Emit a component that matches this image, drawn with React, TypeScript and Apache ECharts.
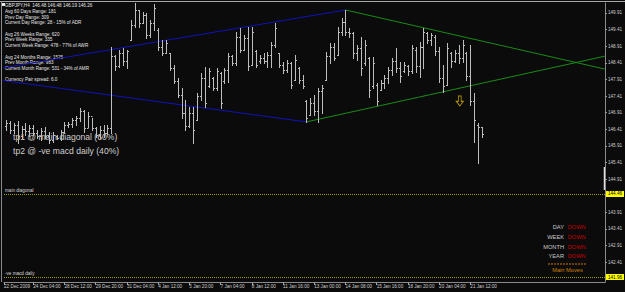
import React, { useEffect, useRef } from "react";
import * as echarts from "echarts";

// ---- data (GBPJPY, H4) ----
const opens = [
  146.50, 146.60, 146.40, 146.55, 146.20, 146.42, 146.35, 146.45, 146.30, 146.22,
  146.35, 146.20, 146.10, 146.20, 146.15, 146.33, 146.55, 146.58, 146.70, 146.76,
  146.95, 146.45, 146.80, 146.45, 146.25, 146.40, 146.30, 146.45, 148.60, 148.30,
  148.70, 148.45, 149.10, 149.55, 150.00, 149.60, 149.85, 149.25, 149.60, 149.40,
  148.90, 148.70, 148.70, 148.25, 147.85, 147.45, 146.90, 146.50, 146.90, 146.70,
  147.40, 147.95, 147.70, 147.95, 147.65, 148.10, 147.85, 148.20, 148.60, 148.40,
  149.20, 148.80, 149.15, 148.35, 148.75, 148.45, 148.55, 148.45, 148.65, 148.95,
  148.70, 148.35, 148.20, 148.40, 147.90, 148.25, 147.90, 147.25, 146.85, 147.20,
  146.95, 147.55, 147.90, 148.60, 148.90, 148.65, 149.35, 149.65, 149.35, 149.30,
  148.70, 148.85, 148.40, 148.55, 147.70, 147.75, 147.60, 147.80, 147.95, 148.20,
  148.45, 148.25, 148.15, 148.30, 148.15, 148.80, 148.30, 148.90, 149.30, 149.10,
  149.20, 148.75, 147.95, 147.75, 148.70, 148.45, 148.70, 148.55, 148.70, 148.00,
  147.25, 146.55, 146.48,
];
const highs = [
  146.69, 146.66, 146.60, 146.66, 146.50, 146.60, 146.54, 146.54, 146.38, 146.44,
  146.47, 146.32, 146.32, 146.23, 146.38, 146.63, 146.63, 146.75, 146.81, 147.05,
  146.99, 146.93, 146.75, 146.47, 146.50, 146.54, 146.54, 148.88, 148.64, 148.79,
  148.85, 148.79, 149.70, 150.21, 150.00, 149.94, 149.91, 149.70, 150.18, 149.46,
  149.10, 149.10, 148.70, 148.34, 147.95, 147.65, 147.29, 147.08, 147.08, 147.50,
  148.10, 148.28, 148.25, 147.98, 148.25, 148.13, 148.25, 148.70, 148.64, 149.34,
  149.46, 149.25, 149.49, 149.49, 148.79, 148.64, 148.70, 148.73, 149.03, 149.61,
  148.70, 148.43, 148.49, 148.43, 148.64, 148.28, 148.04, 147.29, 147.35, 147.44,
  147.65, 147.74, 148.73, 149.00, 149.00, 149.49, 149.76, 150.00, 149.46, 149.34,
  148.94, 149.19, 149.10, 148.58, 148.58, 147.80, 147.89, 148.04, 148.28, 148.55,
  148.85, 148.43, 148.43, 148.34, 148.94, 148.88, 149.03, 149.46, 149.34, 149.31,
  149.25, 148.88, 148.34, 149.00, 148.73, 148.79, 148.94, 149.10, 148.73, 148.94,
  147.50, 146.60, 146.48,
];
const lows = [
  146.38, 146.29, 146.29, 145.99, 146.11, 146.23, 146.20, 146.23, 146.14, 146.08,
  146.14, 145.99, 146.02, 146.11, 146.08, 146.29, 146.47, 146.47, 146.54, 146.66,
  146.32, 146.47, 146.38, 146.17, 146.14, 146.17, 146.26, 146.29, 148.19, 148.28,
  148.34, 148.25, 149.10, 149.49, 149.49, 149.61, 149.16, 149.19, 149.40, 148.79,
  148.64, 148.70, 148.19, 147.80, 147.38, 146.75, 146.38, 146.47, 145.99, 146.69,
  147.29, 147.08, 147.68, 147.59, 147.59, 147.05, 147.80, 147.83, 148.34, 148.34,
  148.73, 148.79, 148.19, 148.34, 148.28, 148.40, 148.40, 148.28, 148.28, 148.88,
  148.28, 148.10, 148.13, 147.65, 147.89, 147.80, 147.65, 146.63, 146.84, 146.84,
  146.63, 146.90, 147.89, 148.40, 148.49, 148.64, 149.25, 149.25, 149.19, 148.55,
  148.49, 148.04, 148.34, 147.38, 147.65, 147.14, 147.59, 147.65, 147.80, 148.04,
  148.13, 147.83, 148.13, 148.04, 148.10, 148.13, 147.98, 148.25, 149.00, 148.94,
  148.64, 147.83, 147.53, 147.74, 148.28, 148.43, 148.40, 148.43, 147.89, 147.14,
  146.02, 145.39, 146.19,
];
const closes = [
  146.60, 146.40, 146.55, 146.20, 146.42, 146.35, 146.45, 146.30, 146.22, 146.35,
  146.20, 146.10, 146.25, 146.15, 146.33, 146.55, 146.58, 146.70, 146.76, 146.95,
  146.45, 146.80, 146.45, 146.25, 146.40, 146.30, 146.45, 148.60, 148.30, 148.70,
  148.45, 148.75, 149.55, 150.00, 149.60, 149.85, 149.25, 149.60, 150.05, 148.90,
  148.70, 149.00, 148.25, 147.85, 147.45, 146.90, 146.50, 146.90, 146.40, 147.40,
  147.95, 147.20, 148.15, 147.65, 148.15, 147.20, 148.20, 148.60, 148.40, 149.20,
  148.80, 149.15, 148.30, 149.35, 148.35, 148.55, 148.45, 148.65, 148.95, 149.45,
  148.35, 148.20, 148.40, 147.75, 148.50, 147.90, 147.70, 146.75, 147.20, 146.95,
  147.55, 147.65, 148.60, 148.90, 148.55, 149.35, 149.65, 149.35, 149.30, 148.70,
  148.85, 148.25, 148.95, 147.60, 148.40, 147.25, 147.80, 147.95, 148.20, 148.45,
  148.25, 148.00, 148.35, 148.15, 148.85, 148.30, 148.90, 149.35, 149.10, 149.25,
  148.75, 147.95, 147.70, 148.85, 148.45, 148.70, 148.55, 148.95, 148.00, 147.25,
  146.70, 146.48, 146.26,
];

const timeTickPositions = [-0.5, 7, 15, 23, 31, 39, 47, 55, 63, 71, 79, 87, 95, 103, 111, 119];
const timeTickLabels = [
  "22 Dec 2009", "24 Dec 04:00", "28 Dec 12:00", "29 Dec 20:00", "31 Dec 04:00",
  "4 Jan 12:00", "5 Jan 20:00", "7 Jan 04:00", "8 Jan 12:00", "11 Jan 16:00",
  "13 Jan 00:00", "14 Jan 08:00", "15 Jan 16:00", "18 Jan 20:00", "20 Jan 04:00",
  "21 Jan 12:00",
];
// price scale ticks; 144.41 and 141.91 sit under the level boxes, so only their tick marks show
const priceTicks = [
  142.41, 142.91, 143.41, 143.91, 144.41, 144.91, 145.41, 145.91,
  146.41, 146.91, 147.41, 147.91, 148.41, 148.91, 149.41, 149.91,
];
const priceLabels = [
  142.41, 142.91, 143.41, 143.91, 144.91, 145.41, 145.91,
  146.41, 146.91, 147.41, 147.91, 148.41, 148.91, 149.41, 149.91,
];

const upperBlue = [[-1.6, 148.24], [87, 150.0]];
const upperGreen = [[87, 150.0], [153.5, 148.22]];
const lowerBlue = [[-1.6, 147.89], [77, 146.63]];
const lowerGreen = [[77, 146.63], [153.5, 148.61]];

const mainDiagonal = 144.46;
const macdDaily = 141.96;
const bidPrice = 146.26;
const arrowPoint = [[116.3, 147.26]];

const infoLines = [
  "GBPJPY,H4  146.48 146.48 146.19 146.26",
  "Avg 60 Days Range: 181",
  "Prev Day Range: 309",
  "Current Day Range: 28 - 15% of ADR",
  "",
  "Avg 26 Weeks Range: 620",
  "Prev Week Range: 335",
  "Current Week Range: 478 - 77% of AWR",
  "",
  "Avg 24 Months Range: 1525",
  "Prev Month Range: 983",
  "Current Month Range: 531 - 34% of AMR",
  "",
  "Currency Pair spread: 6.0",
];
const moveLabels = ["DAY", "WEEK", "MONTH", "YEAR"];
const moveValues = ["DOWN", "DOWN", "DOWN", "DOWN"];

const FONT = "Liberation Sans";

export default function App() {
  const ref = useRef<HTMLDivElement>(null);
  useEffect(() => {
    document.body.style.margin = "0";
    const chart = echarts.init(ref.current!, null, { renderer: "svg" });
    const ohlc = opens.map((o, i) => [i, o, highs[i], lows[i], closes[i]]);

    const lineSmall = { fontSize: 4.6, fontFamily: FONT };

    const graphics: any[] = [];
    // frame
    graphics.push({ type: "line", shape: { x1: 0, y1: 1.5, x2: 625, y2: 1.5 }, style: { stroke: "#a8a8a8", lineWidth: 1 }, silent: true });
    graphics.push({ type: "line", shape: { x1: 1.5, y1: 1.5, x2: 1.5, y2: 282 }, style: { stroke: "#8a8a8a", lineWidth: 1 }, silent: true });
    graphics.push({ type: "rect", shape: { x: 2, y: 3, width: 3, height: 3 }, style: { fill: "#e8e8e8" }, silent: true });
    graphics.push({ type: "line", shape: { x1: 604.5, y1: 167, x2: 604.5, y2: 190 }, style: { stroke: "#e0e0e0", lineWidth: 1.5 }, silent: true });
    infoLines.forEach((t, k) => {
      if (!t) return;
      graphics.push({
        type: "text", x: 5, y: 5.7 + k * 5.7, silent: true,
        style: { text: t, fill: "#e6e6e6", ...lineSmall, textVerticalAlign: "middle", textAlign: "left" },
      });
    });
    graphics.push({ type: "text", x: 13, y: 137, silent: true, style: { text: "tp1 @ main diagonal (60%)", fill: "#cfcfcf", fontSize: 8.6, fontFamily: FONT, textVerticalAlign: "middle" } });
    graphics.push({ type: "text", x: 13, y: 151, silent: true, style: { text: "tp2 @ -ve macd daily (40%)", fill: "#cfcfcf", fontSize: 8.6, fontFamily: FONT, textVerticalAlign: "middle" } });
    moveLabels.forEach((t, k) => {
      const y = 227.3 + k * 9.6;
      graphics.push({ type: "text", x: 564, y, silent: true, style: { text: t, fill: "#c8c8c8", fontSize: 5.7, fontFamily: FONT, textAlign: "right", textVerticalAlign: "middle" } });
      graphics.push({ type: "text", x: 567.7, y, silent: true, style: { text: moveValues[k], fill: "#c80000", fontSize: 5.7, fontFamily: FONT, textAlign: "left", textVerticalAlign: "middle" } });
    });
    graphics.push({ type: "line", shape: { x1: 548, y1: 264, x2: 587, y2: 264 }, style: { stroke: "#c87800", lineWidth: 1, lineDash: [2, 1] }, silent: true });
    graphics.push({ type: "text", x: 567.5, y: 269.5, silent: true, style: { text: "Main Moves", fill: "#d08000", fontSize: 5.7, fontFamily: FONT, textAlign: "center", textVerticalAlign: "middle" } });

    const levelStyle = { color: "#9d9d00", type: "dotted", width: 1 };
    const boxLabel = (v: number, bg: string) => ({
      show: true, position: "end", formatter: v.toFixed(2), backgroundColor: bg, color: "#000",
      ...lineSmall, padding: [1, 2, 0, 2], distance: 1,
    });
    const nameLabel = (t: string) => ({
      show: true, position: "insideStartTop", formatter: t, color: "#d8d8d8", ...lineSmall, distance: 1,
    });

    const trend = (data: number[][], color: string, extra: any = {}) => ({
      type: "line", data, symbol: "none", silent: true,
      lineStyle: { color, width: 1 }, z: 3, ...extra,
    });

    chart.setOption({
      animation: false,
      backgroundColor: "#0b0b0b",
      grid: { left: 4, right: 20, top: 3, bottom: 10 },
      xAxis: {
        type: "value", min: -0.5, max: 153.5,
        splitLine: { show: false },
        axisLine: { onZero: false, lineStyle: { color: "#8a8a8a" } },
        axisTick: { show: true, customValues: timeTickPositions, length: 3, lineStyle: { color: "#a0a0a0" } },
        axisLabel: {
          customValues: timeTickPositions,
          formatter: (v: number) => {
            const k = timeTickPositions.findIndex((t) => Math.abs(t - v) < 0.01);
            return k >= 0 ? timeTickLabels[k] : "";
          },
          color: "#cfcfcf", ...lineSmall, align: "left", margin: 2,
          showMinLabel: true, showMaxLabel: true,
        },
      },
      yAxis: {
        type: "value", position: "right", min: 141.81, max: 150.21, scale: true,
        splitLine: { show: false },
        axisLine: { show: true, onZero: false, lineStyle: { color: "#8a8a8a" } },
        axisTick: { show: true, customValues: priceTicks, length: 2, lineStyle: { color: "#a0a0a0" } },
        axisLabel: {
          customValues: priceLabels,
          formatter: (v: number) => v.toFixed(2),
          color: "#cfcfcf", ...lineSmall, margin: 3,
        },
      },
      series: [
        {
          type: "custom",
          data: ohlc,
          encode: { x: 0, y: [1, 2, 3, 4] },
          silent: true,
          z: 4,
          renderItem: (params: any, api: any) => {
            const i = api.value(0);
            const o = api.coord([i, api.value(1)]);
            const h = api.coord([i, api.value(2)]);
            const l = api.coord([i, api.value(3)]);
            const c = api.coord([i, api.value(4)]);
            const x = Math.round(h[0]) + 0.5;
            const style = { stroke: "#bdbdbd", lineWidth: 1 };
            const oy = Math.round(o[1]) + 0.5;
            const cy = Math.round(c[1]) + 0.5;
            return {
              type: "group",
              children: [
                { type: "line", shape: { x1: x, y1: Math.round(h[1]), x2: x, y2: Math.round(l[1]) + 1 }, style },
                { type: "line", shape: { x1: x - 1.5, y1: oy, x2: x, y2: oy }, style },
                { type: "line", shape: { x1: x, y1: cy, x2: x + 1.5, y2: cy }, style },
              ],
            };
          },
        },
        trend(upperBlue, "#1212bc"),
        trend(lowerBlue, "#1212bc"),
        trend(upperGreen, "#1a8c1a"),
        trend(lowerGreen, "#1a8c1a", {
          markLine: {
            symbol: ["none", "none"], silent: true, animation: false,
            data: [
              { yAxis: mainDiagonal, lineStyle: levelStyle, label: boxLabel(mainDiagonal, "#ffff00") },
              { yAxis: mainDiagonal, lineStyle: levelStyle, label: nameLabel("main diagonal") },
              { yAxis: macdDaily, lineStyle: levelStyle, label: boxLabel(macdDaily, "#ffff00") },
              { yAxis: macdDaily, lineStyle: levelStyle, label: nameLabel("-ve macd daily") },
              { yAxis: bidPrice, lineStyle: { opacity: 0 }, label: boxLabel(bidPrice, "#ffffff") },
            ],
          },
        }),
        {
          type: "scatter",
          data: arrowPoint,
          symbol: "path://M3,0 L7,0 L7,6 L10,6 L5,11 L0,6 L3,6 Z",
          symbolSize: [7, 10],
          itemStyle: { color: "rgba(0,0,0,0)", borderColor: "#d8b000", borderWidth: 1 },
          silent: true,
          z: 5,
        },
      ],
      graphic: graphics,
    });
    return () => chart.dispose();
  }, []);
  return <div ref={ref} style={{ position: "fixed", left: 0, top: 0, width: 625, height: 292 }} />;
}
